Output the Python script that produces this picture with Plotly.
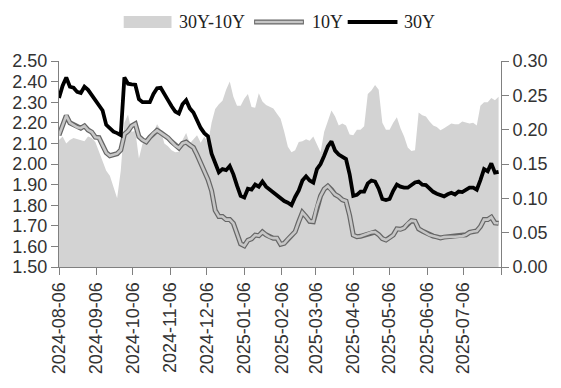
import pandas as pd
import plotly.graph_objects as go

# ---- data ----
dates = pd.date_range("2024-08-06", periods=122, freq="3D").strftime("%Y-%m-%d").tolist()

y30 = [2.32, 2.38, 2.42, 2.375, 2.37, 2.35, 2.345, 2.375, 2.36, 2.335,
       2.31, 2.29, 2.26, 2.19, 2.175, 2.157, 2.15, 2.14, 2.42, 2.39,
       2.387, 2.385, 2.315, 2.30, 2.30, 2.30, 2.34, 2.368, 2.37, 2.335,
       2.31, 2.28, 2.255, 2.245, 2.29, 2.31, 2.27, 2.25, 2.21, 2.175,
       2.15, 2.135, 2.05, 2.00, 1.96, 1.975, 1.97, 1.99, 1.95, 1.895,
       1.845, 1.837, 1.88, 1.876, 1.90, 1.89, 1.915, 1.89, 1.876, 1.865,
       1.852, 1.835, 1.82, 1.812, 1.80, 1.84, 1.872, 1.92, 1.94, 1.92,
       1.91, 1.975, 2.00, 2.04, 2.085, 2.11, 2.065, 2.046, 2.033, 2.024,
       1.95, 1.845, 1.85, 1.866, 1.866, 1.906, 1.92, 1.915, 1.88, 1.83,
       1.825, 1.83, 1.87, 1.90, 1.89, 1.885, 1.885, 1.90, 1.91, 1.915,
       1.90, 1.898, 1.88, 1.865, 1.856, 1.85, 1.843, 1.853, 1.86, 1.852,
       1.866, 1.864, 1.872, 1.885, 1.885, 1.875, 1.922, 1.975, 1.965, 2.003,
       1.958, 1.962]

y10 = [2.14, 2.19, 2.235, 2.20, 2.19, 2.178, 2.174, 2.185, 2.165, 2.155,
       2.13, 2.128, 2.09, 2.055, 2.04, 2.044, 2.05, 2.068, 2.145, 2.16,
       2.185, 2.195, 2.133, 2.117, 2.108, 2.13, 2.15, 2.163, 2.152, 2.14,
       2.127, 2.108, 2.09, 2.078, 2.10, 2.106, 2.092, 2.08, 2.045, 2.005,
       1.966, 1.925, 1.87, 1.775, 1.745, 1.745, 1.73, 1.73, 1.712, 1.665,
       1.612, 1.603, 1.63, 1.637, 1.655, 1.652, 1.67, 1.656, 1.645, 1.64,
       1.64, 1.61, 1.615, 1.635, 1.655, 1.671, 1.72, 1.765, 1.745, 1.722,
       1.72, 1.795, 1.845, 1.878, 1.893, 1.875, 1.852, 1.842, 1.826, 1.82,
       1.75, 1.655, 1.647, 1.649, 1.655, 1.661, 1.668, 1.67, 1.657, 1.638,
       1.631, 1.642, 1.655, 1.685, 1.683, 1.69, 1.712, 1.725, 1.722, 1.685,
       1.675, 1.665, 1.655, 1.65, 1.646, 1.641, 1.645, 1.647, 1.647, 1.647,
       1.647, 1.65, 1.656, 1.668, 1.672, 1.675, 1.696, 1.73, 1.73, 1.742,
       1.714, 1.712]

spread = [0.185, 0.19, 0.18, 0.185, 0.188, 0.186, 0.185, 0.183, 0.19, 0.188,
          0.182, 0.168, 0.155, 0.14, 0.133, 0.118, 0.10, 0.14, 0.21, 0.222,
          0.197, 0.198, 0.158, 0.18, 0.185, 0.19, 0.197, 0.208, 0.20, 0.18,
          0.176, 0.17, 0.167, 0.168, 0.185, 0.195, 0.18, 0.186, 0.192, 0.181,
          0.19, 0.18, 0.21, 0.23, 0.237, 0.242, 0.258, 0.27, 0.248, 0.235,
          0.235, 0.245, 0.252, 0.233, 0.232, 0.253, 0.241, 0.236, 0.233, 0.231,
          0.223, 0.216, 0.197, 0.175, 0.167, 0.17, 0.182, 0.183, 0.186, 0.184,
          0.19, 0.178, 0.167, 0.197, 0.213, 0.228, 0.219, 0.206, 0.209, 0.206,
          0.193, 0.192, 0.20, 0.20, 0.205, 0.252, 0.257, 0.265, 0.258, 0.21,
          0.20, 0.20, 0.21, 0.218, 0.202, 0.19, 0.174, 0.169, 0.17, 0.225,
          0.221, 0.219, 0.212, 0.206, 0.204, 0.199, 0.202, 0.206, 0.209, 0.208,
          0.208, 0.212, 0.211, 0.209, 0.21, 0.206, 0.235, 0.24, 0.24, 0.246,
          0.243, 0.248]

x_tickvals = ["2024-08-06", "2024-09-06", "2024-10-06", "2024-11-06", "2024-12-06",
              "2025-01-06", "2025-02-06", "2025-03-06", "2025-04-06", "2025-05-06",
              "2025-06-06", "2025-07-06", "2025-08-06"]
x_ticktext = x_tickvals[:-1] + [""]
left_ticks = [1.50, 1.60, 1.70, 1.80, 1.90, 2.00, 2.10, 2.20, 2.30, 2.40, 2.50]
right_ticks = [0.00, 0.05, 0.10, 0.15, 0.20, 0.25, 0.30]

legend_names = ["30Y-10Y", "10Y", "30Y"]

# ---- style ----
AREA = "#d3d3d3"
TICKFONT = dict(family="Arial, Liberation Sans, sans-serif", size=18, color="#333333")
AXC = "#808080"

fig = go.Figure()

# spread area on the base (right) axis so it stays behind the lines
fig.add_trace(go.Scatter(x=dates, y=spread, mode="lines", fill="tozeroy",
                         fillcolor=AREA, line=dict(width=0, color=AREA),
                         name=legend_names[0], yaxis="y", showlegend=False))
# 10Y as a double line: dark outline + light core
fig.add_trace(go.Scatter(x=dates, y=y10, mode="lines",
                         line=dict(width=5, color="#666666"),
                         name=legend_names[1], yaxis="y2", showlegend=False))
fig.add_trace(go.Scatter(x=dates, y=y10, mode="lines",
                         line=dict(width=2.6, color="#c6c6c6"),
                         name=legend_names[1], yaxis="y2", showlegend=False))
fig.add_trace(go.Scatter(x=dates, y=y30, mode="lines",
                         line=dict(width=3.8, color="#000000"),
                         name=legend_names[2], yaxis="y2", showlegend=False))

# ---- custom legend (matching the reference swatches) ----
def px_x(p):
    return (p - 57) / 444.0

def px_y(p):
    return (267 - p) / 206.0

shapes = [
    dict(type="rect", xref="paper", yref="paper",
         x0=px_x(122), x1=px_x(170), y0=px_y(28), y1=px_y(16),
         fillcolor=AREA, line=dict(width=0)),
    dict(type="line", xref="paper", yref="paper",
         x0=px_x(253), x1=px_x(303), y0=px_y(22), y1=px_y(22),
         line=dict(width=5, color="#666666")),
    dict(type="line", xref="paper", yref="paper",
         x0=px_x(254), x1=px_x(302), y0=px_y(22), y1=px_y(22),
         line=dict(width=2.6, color="#c6c6c6")),
    dict(type="line", xref="paper", yref="paper",
         x0=px_x(347), x1=px_x(397), y0=px_y(22), y1=px_y(22),
         line=dict(width=4, color="#000000")),
]
LEGFONT = dict(family="Liberation Serif, Times New Roman, serif", size=18, color="#222222")
annotations = [
    dict(text=legend_names[0], x=px_x(176), y=px_y(22), xref="paper", yref="paper",
         xanchor="left", yanchor="middle", showarrow=False, font=LEGFONT),
    dict(text=legend_names[1], x=px_x(309), y=px_y(22), xref="paper", yref="paper",
         xanchor="left", yanchor="middle", showarrow=False, font=LEGFONT),
    dict(text=legend_names[2], x=px_x(402), y=px_y(22), xref="paper", yref="paper",
         xanchor="left", yanchor="middle", showarrow=False, font=LEGFONT),
]

fig.update_layout(
    width=561, height=388,
    margin=dict(l=57, r=60, t=61, b=121, pad=0),
    paper_bgcolor="white", plot_bgcolor="white",
    showlegend=False,
    shapes=shapes, annotations=annotations,
    xaxis=dict(type="date", range=["2024-08-06", "2025-08-06"],
               tickmode="array", tickvals=x_tickvals, ticktext=x_ticktext,
               tickangle=-90, tickfont=TICKFONT,
               showline=True, linecolor=AXC, linewidth=1.2,
               ticks="outside", ticklen=7, tickcolor=AXC,
               showgrid=False, zeroline=False),
    yaxis=dict(range=[0, 0.30], side="right",
               tickmode="array", tickvals=right_ticks,
               tickformat=".2f", tickfont=TICKFONT,
               showline=True, linecolor=AXC, linewidth=1,
               ticks="outside", ticklen=7, tickcolor=AXC,
               showgrid=False, zeroline=False),
    yaxis2=dict(range=[1.5, 2.5], side="left", overlaying="y",
                tickmode="array", tickvals=left_ticks,
                tickformat=".2f", tickfont=TICKFONT,
                showline=True, linecolor=AXC, linewidth=1,
                ticks="outside", ticklen=7, tickcolor=AXC,
                showgrid=False, zeroline=False),
)

fig.write_html("out.html",
               config={"displayModeBar": False},
               post_script="document.body.style.margin='0';document.body.style.padding='0';")
